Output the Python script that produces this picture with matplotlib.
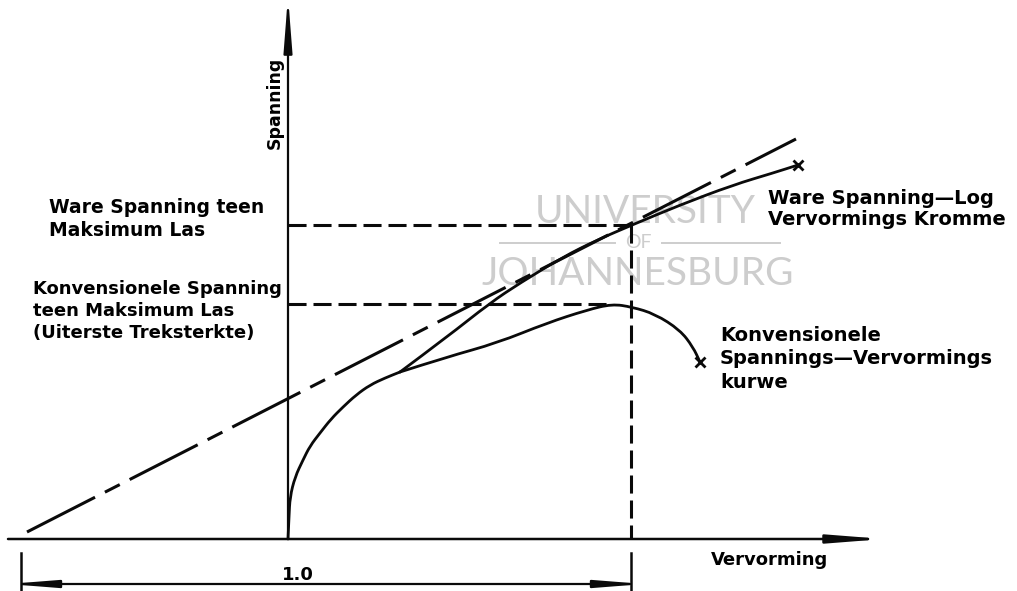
import matplotlib
matplotlib.use("Agg")
import matplotlib.pyplot as plt
from matplotlib.patches import FancyArrowPatch, PathPatch
from matplotlib.path import Path

plt.rcParams["lines.scale_dashes"] = False
plt.rcParams["font.family"] = ["DejaVu Sans"]

# schematic units (strain, stress), origin at the axes crossing
strain_common = [0, 1, 2, 7, 15, 22, 32, 43, 55, 68, 82, 97, 112]
stress_common = [0, 22, 42, 62, 79, 93, 106, 120, 132, 144, 154, 161, 167]

# true stress - log strain curve after the split
strain_true = [159, 202, 232, 275, 309, 344, 392, 445, 485, 510]
stress_true = [202, 236, 256, 282, 299, 314, 334, 354, 366, 374]

# conventional stress-strain curve after the split
strain_eng = [159, 209, 259, 299, 324, 344, 367, 392, 405, 412]
stress_eng = [182, 196, 216, 229, 235, 232, 225, 209, 192, 177]

# Considere tangent (dashed)
tangent_strain = [-261, 508]
tangent_stress = [7, 400]

neck_strain = 343
true_max_load = 314
uts_strain = 324
uts = 235
dim_left = -267

BLACK = "#0a0a0a"
WM = "#cdcdcd"


def smooth_curve(ax, xs, ys, lw):
    # quadratic bezier through midpoints, just to draw the hand-drawn look
    verts = [(xs[0], ys[0])]
    codes = [Path.MOVETO]
    for i in range(1, len(xs) - 1):
        verts += [(xs[i], ys[i]), ((xs[i] + xs[i + 1]) / 2, (ys[i] + ys[i + 1]) / 2)]
        codes += [Path.CURVE3, Path.CURVE3]
    verts.append((xs[-1], ys[-1]))
    codes.append(Path.LINETO)
    ax.add_patch(PathPatch(Path(verts, codes), fill=False, lw=lw, edgecolor=BLACK,
                           capstyle="round", joinstyle="round"))


def arrow(ax, a, b, style, lw):
    ax.add_patch(FancyArrowPatch(a, b, arrowstyle=style, mutation_scale=1, lw=lw,
                                 color=BLACK, shrinkA=0, shrinkB=0, clip_on=False))


fig = plt.figure(figsize=(10.17, 5.91), dpi=100)
ax = fig.add_axes([0, 0, 1, 1])
ax.set_xlim(-288, 729)
ax.set_ylim(-52, 539)
ax.axis("off")

# watermark
wm = dict(color=WM, family="Lato", ha="center", va="center", zorder=0)
ax.text(357, 327, "UNIVERSITY", fontsize=28, **wm)
ax.text(350, 296, "OF", fontsize=14, **wm)
ax.text(350, 265, "JOHANNESBURG", fontsize=28, **wm)
ax.plot([212, 327], [296, 296], color=WM, lw=1.4, zorder=0)
ax.plot([374, 492], [296, 296], color=WM, lw=1.4, zorder=0)

# axes with arrows (tip drawn ~14 px short of the end point, so pad it)
arrow(ax, (-280, 0), (596, 0), "-|>,head_length=32,head_width=2.5", 1.8)
arrow(ax, (0, 0), (0, 543), "-|>,head_length=32,head_width=2.5", 1.6)

# curves
smooth_curve(ax, strain_common, stress_common, 2.0)
smooth_curve(ax, [strain_common[-1]] + strain_true, [stress_common[-1]] + stress_true, 2.0)
smooth_curve(ax, [strain_common[-1]] + strain_eng, [stress_common[-1]] + stress_eng, 2.0)
ax.plot(strain_true[-1], stress_true[-1], marker="x", ms=7, mew=2, color=BLACK)
ax.plot(strain_eng[-1], stress_eng[-1], marker="x", ms=7, mew=2, color=BLACK)

# tangent line (long-short dash)
ax.plot(tangent_strain, tangent_stress, color=BLACK, lw=2.2, dashes=(55, 8, 12, 8))

# construction lines
dash = (13, 5)
ax.plot([0, neck_strain], [true_max_load, true_max_load], color=BLACK, lw=2.2, dashes=dash)
ax.plot([0, uts_strain], [uts, uts], color=BLACK, lw=2.2, dashes=dash)
ax.plot([neck_strain, neck_strain], [true_max_load, 0], color=BLACK, lw=2.2, dashes=dash)

# dimension "1.0"
ax.plot([dim_left, dim_left], [-14, -52], color=BLACK, lw=1.8, clip_on=False)
ax.plot([neck_strain, neck_strain], [-14, -52], color=BLACK, lw=1.8, clip_on=False)
arrow(ax, (dim_left - 13, -45), (neck_strain + 13, -45), "<|-|>,head_length=28,head_width=2.2", 1.6)
ax.text(10, -36, "1.0", fontsize=13, fontweight="bold", ha="center", va="center")

# labels
ax.text(-13, 436, "Spanning", rotation=90, fontsize=12.5, fontweight="bold", ha="center", va="center")
ax.text(482, -21, "Vervorming", fontsize=13, fontweight="bold", ha="center", va="center")
ax.text(-239, 320, "Ware Spanning teen\nMaksimum Las", fontsize=13.5, fontweight="bold",
        ha="left", va="center", linespacing=1.33)
ax.text(-255, 228, "Konvensionele Spanning\nteen Maksimum Las\n(Uiterste Treksterkte)", fontsize=13,
        fontweight="bold", ha="left", va="center", linespacing=1.32)
ax.text(480, 330, "Ware Spanning\u2014Log\nVervormings Kromme", fontsize=14, fontweight="bold",
        ha="left", va="center", linespacing=1.17)
ax.text(432, 180, "Konvensionele\nSpannings\u2014Vervormings\nkurwe", fontsize=14, fontweight="bold",
        ha="left", va="center", linespacing=1.33)

fig.savefig("out.png", dpi=100)
